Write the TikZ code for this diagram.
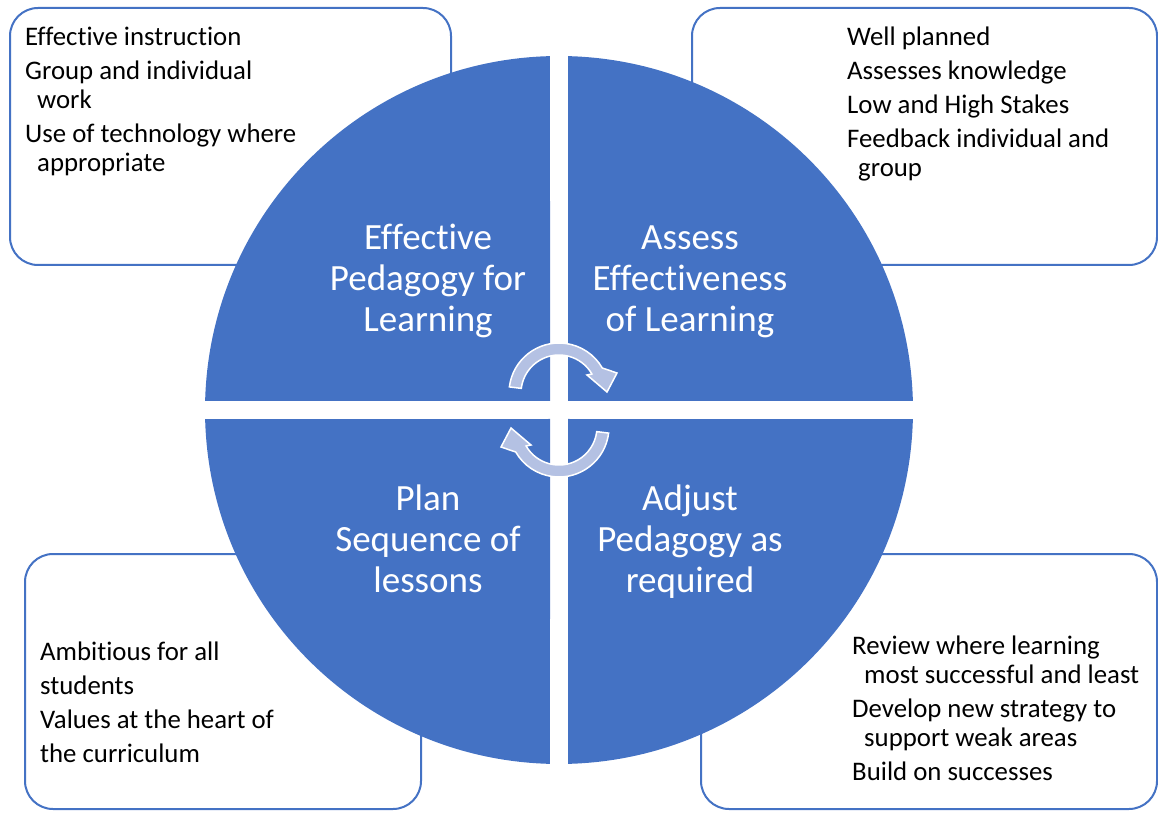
\documentclass[tikz,border=0pt]{standalone}
\usepackage{fontspec}
\setmainfont{Carlito}[Ligatures=NoCommon]
\usepackage{xcolor}
\usepackage{tikz}
\usetikzlibrary{positioning}
\definecolor{pieblue}{RGB}{68, 114, 196}
\definecolor{arrowfill}{RGB}{180, 193, 227}
\newcommand{\leftlines}[1]{\parbox[t]{420pt}{\raggedright #1}}
\newcommand{\midlines}[1]{\parbox[t]{260pt}{\centering #1}}

\begin{document}
\begin{tikzpicture}[x=1pt, y=1pt,
    infobox/.style={draw=pieblue, line width=2pt, fill=white, rounded corners=28pt, inner sep=0pt},
    boxtext/.style={anchor=base west, inner sep=0pt, font=\fontsize{26.8}{29}\selectfont},
    quadlabel/.style={anchor=base, inner sep=0pt, text=white, font=\fontsize{37}{41}\selectfont},
    cyclearrow/.style={fill=arrowfill, draw=white, line width=1.5pt}]

    \useasboundingbox (0, 0) rectangle (1158, 812);

    % Side boxes (behind the circle)
    \node[infobox, minimum width=441pt, minimum height=257pt] (tlbox) at (230.5, 675.5) {};
    \node[infobox, minimum width=465pt, minimum height=257pt] (trbox) at (924.5, 675.5) {};
    \node[infobox, minimum width=396pt, minimum height=255pt] (blbox) at (223, 130.5) {};
    \node[infobox, minimum width=456pt, minimum height=255pt] (brbox) at (929, 130.5) {};

    % Four quarters of the circle
    \foreach \q in {0, 90, 180, 270} {
        \fill[pieblue, shift={(559, 402)}, rotate=\q]
            (9, 9) -- (88.54:354) arc[start angle=88.54, end angle=1.46, radius=354] -- cycle;
    }

    % Cycle arrows in the middle
    \foreach \q in {0, 180} {
        \draw[cyclearrow, shift={(559, 402)}, rotate=\q, shift={(0, 17)}]
            (173:50) arc[start angle=173, end angle=30, radius=50]
            -- (58, 20) -- (48, 1) -- (28, 18)
            -- (30:38) arc[start angle=30, end angle=173, radius=38] -- cycle;
    }

    % Quarter labels
    \node[quadlabel] (effped) at (428, 562) {\midlines{Effective\\Pedagogy for\\Learning}};
    \node[quadlabel] (assess) at (690, 562) {\midlines{Assess\\Effectiveness\\of Learning}};
    \node[quadlabel] (plan) at (428, 302) {\midlines{Plan\\Sequence of\\lessons}};
    \node[quadlabel] (adjust) at (690, 302) {\midlines{Adjust\\Pedagogy as\\required}};

    % Box texts
    \node[boxtext] (tltext) at (25, 766) {\leftlines{Effective instruction\\[5pt]
        Group and individual\\ \hspace*{12pt}work\\[5pt]
        Use of technology where\\ \hspace*{12pt}appropriate}};
    \node[boxtext] (trtext) at (847, 766) {\leftlines{Well planned\\[5pt]
        Assesses knowledge\\[5pt]
        Low and High Stakes\\[5pt]
        Feedback individual and\\ \hspace*{11pt}group}};
    \node[boxtext] (bltext) at (40, 152) {\leftlines{Ambitious for all\\[5pt]
        students\\[5pt]
        Values at the heart of\\[5pt]
        the curriculum}};
    \node[boxtext] (brtext) at (852, 158) {\leftlines{Review where learning\\ \hspace*{12pt}most successful and least\\[5pt]
        Develop new strategy to\\ \hspace*{12pt}support weak areas\\[5pt]
        Build on successes}};

\end{tikzpicture}
\end{document}
